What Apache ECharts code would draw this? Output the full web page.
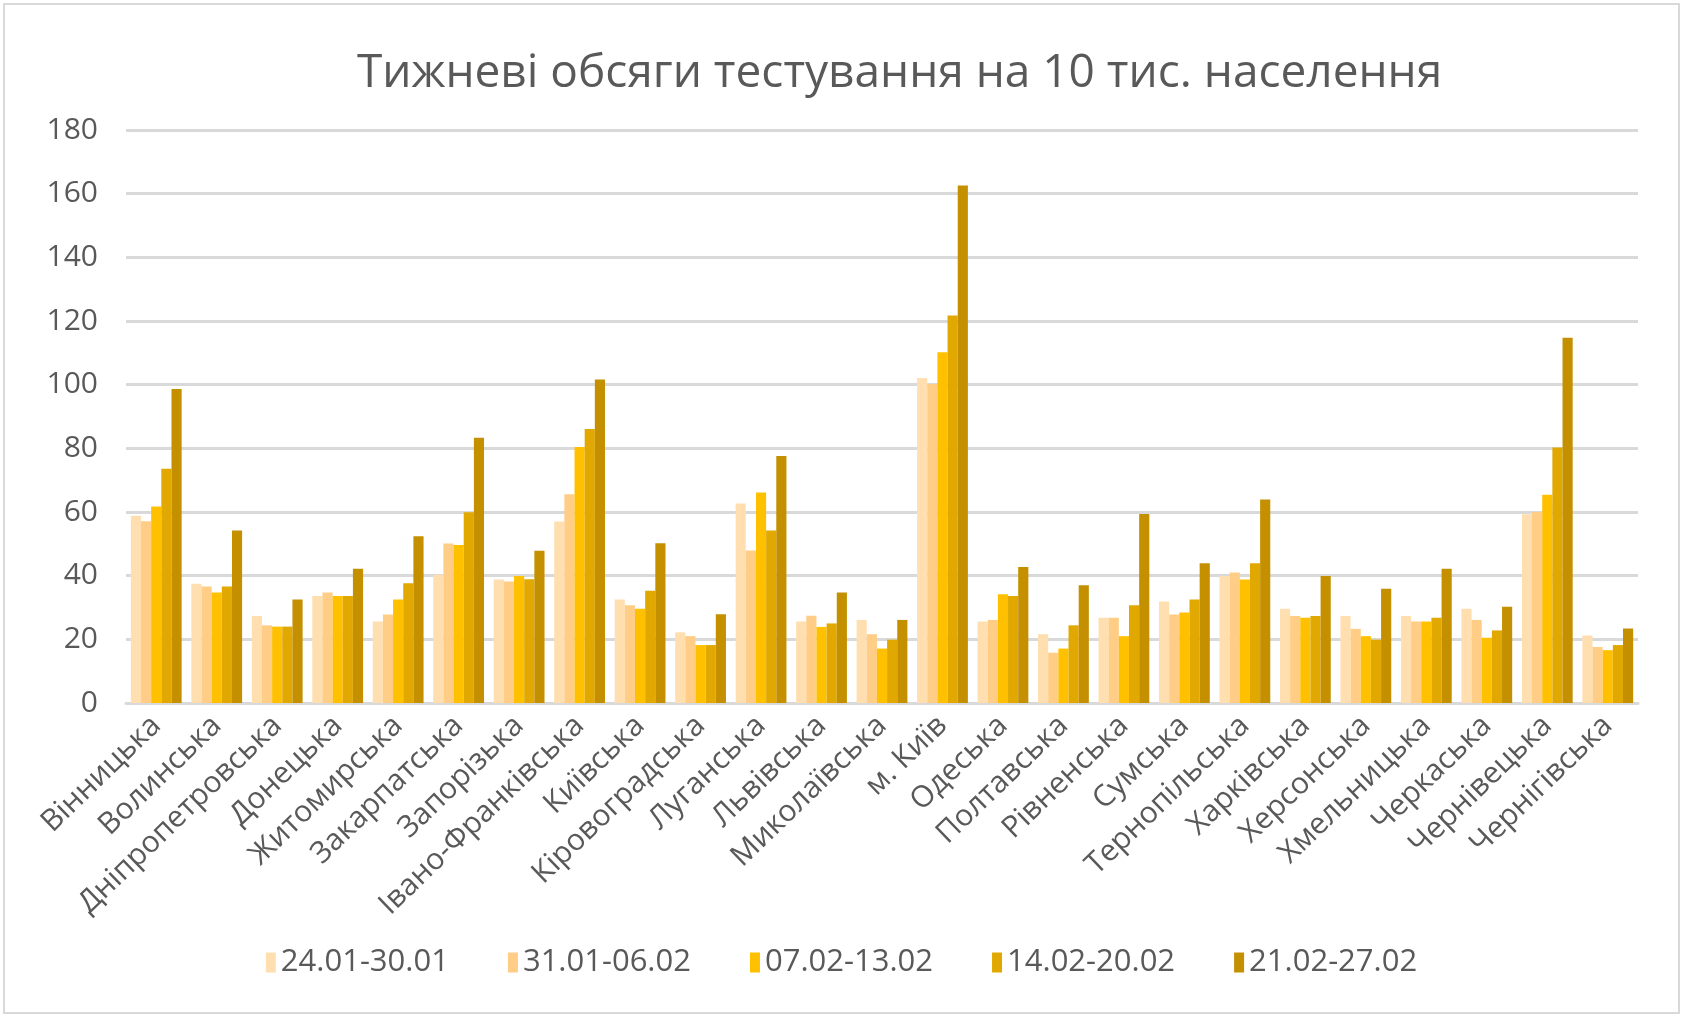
<!DOCTYPE html>
<html>
<head>
<meta charset="utf-8">
<script src="https://cdn.jsdelivr.net/npm/echarts@6/dist/echarts.min.js"></script>
<style>
  html, body { margin: 0; padding: 0; background: #fff; }
  #chart { width: 1683px; height: 1017px; }
</style>
</head>
<body>
<div id="chart"></div>
<script>
// weekly tests per 10k population, by oblast
const regions = ['Вінницька', 'Волинська', 'Дніпропетровська', 'Донецька', 'Житомирська',
  'Закарпатська', 'Запорізька', 'Івано-Франківська', 'Київська', 'Кіровоградська',
  'Луганська', 'Львівська', 'Миколаївська', 'м. Київ', 'Одеська', 'Полтавська',
  'Рівненська', 'Сумська', 'Тернопільська', 'Харківська', 'Херсонська',
  'Хмельницька', 'Черкаська', 'Чернівецька', 'Чернігівська'];

const weeks = ['24.01-30.01', '31.01-06.02', '07.02-13.02', '14.02-20.02', '21.02-27.02'];

const week1 = [58.8, 37.5, 27.3, 33.6, 25.6, 40.3, 38.8, 57.0, 32.5, 22.2, 62.7, 25.6, 26.1, 102.1, 25.6, 21.6, 26.8, 31.9, 39.9, 29.6, 27.3, 27.3, 29.6, 59.3, 21.2];
const week2 = [57.1, 36.6, 24.4, 34.7, 27.8, 50.1, 38.2, 65.6, 30.7, 21.0, 47.9, 27.4, 21.6, 100.2, 26.1, 15.8, 26.8, 27.8, 41.0, 27.3, 23.3, 25.6, 26.1, 60.0, 17.6];
const week3 = [61.7, 34.7, 24.0, 33.6, 32.5, 49.6, 39.9, 80.4, 29.6, 18.2, 66.1, 23.9, 17.1, 110.2, 34.2, 17.1, 21.0, 28.4, 38.8, 26.8, 21.0, 25.6, 20.5, 65.4, 16.6];
const week4 = [73.6, 36.6, 24.0, 33.6, 37.6, 59.9, 38.9, 86.1, 35.3, 18.2, 54.2, 25.0, 19.9, 121.7, 33.6, 24.4, 30.7, 32.5, 43.9, 27.3, 19.9, 26.8, 22.8, 80.3, 18.2];
const week5 = [98.6, 54.2, 32.5, 42.2, 52.4, 83.3, 47.8, 101.6, 50.2, 27.9, 77.6, 34.7, 26.1, 162.6, 42.7, 37.0, 59.4, 43.9, 63.9, 39.9, 35.9, 42.2, 30.2, 114.7, 23.4];

const weekData = [week1, week2, week3, week4, week5];
const colors = ['#FFDFB0', '#FFCD85', '#FFC000', '#E0A800', '#C49000'];

const textColor = '#595959';
const font = 'Open Sans';

const chart = echarts.init(document.getElementById('chart'));

const option = {
  animation: false,
  color: colors,
  textStyle: { fontFamily: font },
  title: {
    text: 'Тижневі обсяги тестування на 10 тис. населення',
    left: 352,
    top: 46,
    textStyle: {
      fontFamily: font,
      fontSize: 46,
      fontWeight: 'normal',
      color: textColor
    }
  },
  legend: {
    data: weeks,
    left: 'center',
    top: 942,
    icon: 'rect',
    itemWidth: 10,
    itemHeight: 20,
    itemGap: 59,
    textStyle: {
      fontFamily: font,
      fontSize: 31,
      color: textColor,
      padding: [0, 0, 0, 0]
    }
  },
  grid: {
    left: 126,
    right: 45,
    top: 130,
    bottom: 314,
    containLabel: false
  },
  xAxis: {
    type: 'category',
    data: regions,
    axisTick: { show: false },
    axisLine: { lineStyle: { color: '#D9D9D9', width: 3 } },
    axisLabel: {
      interval: 0,
      rotate: 44,
      margin: 18,
      fontFamily: font,
      fontSize: 30,
      color: textColor
    }
  },
  yAxis: {
    type: 'value',
    min: 0,
    max: 180,
    interval: 20,
    axisLine: { show: false },
    axisTick: { show: false },
    splitLine: { lineStyle: { color: '#D9D9D9', width: 3 } },
    axisLabel: {
      margin: 28,
      fontFamily: font,
      fontSize: 30,
      color: textColor
    }
  },
  series: weeks.map((w, i) => ({
    name: w,
    type: 'bar',
    data: weekData[i],
    barGap: '0%',
    barCategoryGap: '16%',
    itemStyle: { color: colors[i] }
  })),
  graphic: [{
    type: 'rect',
    silent: true,
    z: -1,
    shape: { x: 4, y: 4, width: 1675, height: 1009 },
    style: { fill: null, stroke: '#D9D9D9', lineWidth: 2 }
  }]
};

chart.setOption(option);

window.addEventListener('resize', function() {
  chart.resize();
});
</script>
</body>
</html>
